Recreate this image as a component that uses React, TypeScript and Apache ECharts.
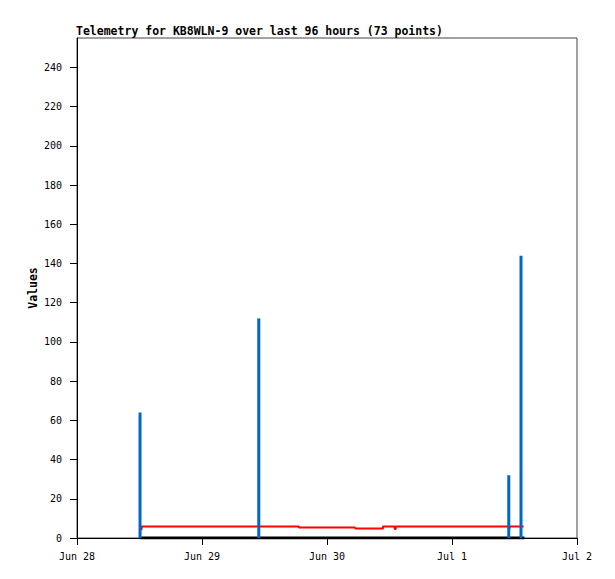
import React, { useEffect, useRef } from "react";
import * as echarts from "echarts";

// x positions are hours since Jun 28 00:00
const dayLabels = ["Jun 28", "Jun 29", "Jun 30", "Jul 1", "Jul 2"];
const yTickValues = [0, 20, 40, 60, 80, 100, 120, 140, 160, 180, 200, 220, 240];

const blueHours = [12.1, 34.9, 82.9, 85.25];
const blueValues = [64, 112, 32, 144];

const redHours = [12.25, 12.4, 42.6, 53.4, 58.75, 61.0, 61.2, 82.9, 83.05, 85.75];
const redValues = [4.3, 5.9, 5.4, 4.9, 5.9, 4.6, 5.9, 4.9, 5.9, 5.9];

const baseHours = [12.1, 85.9];
const baseValues = [0, 0];

const FONT = "DejaVu Sans Mono";

export default function App() {
  const ref = useRef<HTMLDivElement>(null);
  useEffect(() => {
    if (!ref.current) return;
    document.body.style.margin = "0";
    const chart = echarts.init(ref.current, null, { renderer: "svg" });
    chart.setOption({
      animation: false,
      backgroundColor: "#ffffff",
      title: {
        text: "Telemetry for KB8WLN-9 over last 96 hours (73 points)",
        left: 76,
        top: 25,
        padding: 0,
        textStyle: { fontFamily: FONT, fontSize: 11.5, fontWeight: "bold", color: "#000" },
      },
      grid: {
        left: 77,
        top: 38,
        width: 500,
        height: 500,
        show: true,
        borderColor: "#444",
        borderWidth: 1,
        backgroundColor: "#fff",
      },
      xAxis: {
        type: "value",
        min: 0,
        max: 96,
        interval: 24,
        axisLine: { show: true, lineStyle: { color: "#000", width: 1 } },
        axisTick: { show: true, length: 7, lineStyle: { color: "#000" } },
        splitLine: { show: false },
        axisLabel: {
          margin: 13,
          color: "#000",
          fontFamily: FONT,
          fontSize: 10,
          showMaxLabel: true,
          showMinLabel: true,
          formatter: (v: number) => dayLabels[Math.round(v / 24)] ?? "",
        },
      },
      yAxis: {
        type: "value",
        min: 0,
        max: 255,
        name: "Values",
        nameLocation: "middle",
        nameRotate: 90,
        nameGap: 38,
        nameMoveOverlap: false,
        nameTextStyle: { fontFamily: FONT, fontSize: 11.5, fontWeight: "bold", color: "#000" },
        axisLine: { show: true, lineStyle: { color: "#000", width: 1 } },
        axisTick: { show: true, length: 7, customValues: yTickValues, lineStyle: { color: "#000" } },
        splitLine: { show: false },
        axisLabel: {
          margin: 15,
          color: "#000",
          fontFamily: FONT,
          fontSize: 10,
          customValues: yTickValues,
        },
      },
      series: [
        {
          type: "line",
          data: baseHours.map((h, i) => [h, baseValues[i]]),
          symbol: "none",
          lineStyle: { color: "#000", width: 3 },
          z: 1,
        },
        {
          type: "line",
          step: "end",
          data: redHours.map((h, i) => [h, redValues[i]]),
          symbol: "none",
          lineStyle: { color: "#ff0000", width: 2 },
          z: 2,
        },
        {
          type: "bar",
          data: blueHours.map((h, i) => [h, blueValues[i]]),
          barWidth: 3,
          itemStyle: { color: "#0066cc" },
          z: 3,
        },
      ],
    });
    return () => chart.dispose();
  }, []);
  return (
    <div
      ref={ref}
      style={{ position: "fixed", left: 0, top: 0, width: 615, height: 579 }}
    />
  );
}
